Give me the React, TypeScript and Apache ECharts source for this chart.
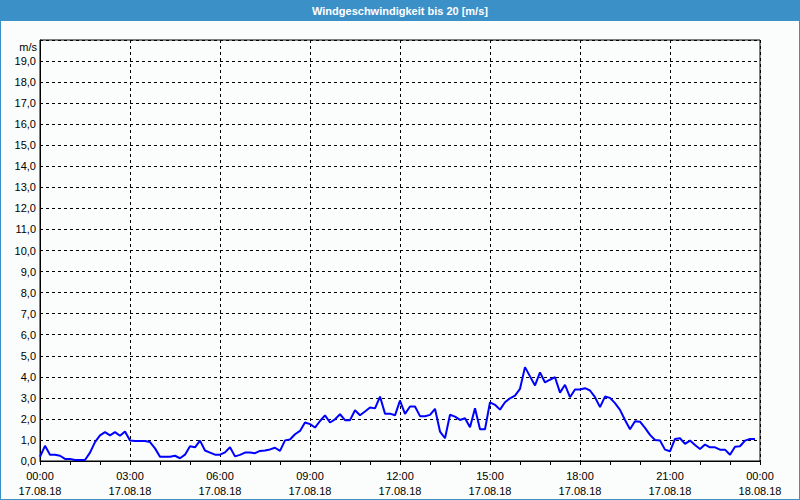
import React, { useEffect, useRef } from "react";
import * as echarts from "echarts";

const titleText = "Windgeschwindigkeit bis 20 [m/s]";
const unitText = "m/s";
const xTickTimes = ["00:00", "03:00", "06:00", "09:00", "12:00", "15:00", "18:00", "21:00", "00:00"];
const xTickDates = ["17.08.18", "17.08.18", "17.08.18", "17.08.18", "17.08.18", "17.08.18", "17.08.18", "17.08.18", "18.08.18"];
const stepMinutes = 10;
// wind speed in m/s, every 10 minutes from 00:00 to 23:50
const windSpeed = [
  0.2, 0.72, 0.3, 0.3, 0.25, 0.1, 0.1, 0.05, 0.05, 0.05,
  0.4, 0.9, 1.22, 1.37, 1.22, 1.37, 1.2, 1.4, 0.97, 0.95,
  0.95, 0.95, 0.9, 0.6, 0.2, 0.2, 0.2, 0.25, 0.13, 0.3,
  0.7, 0.65, 0.97, 0.5, 0.4, 0.3, 0.3, 0.41, 0.65, 0.22,
  0.29, 0.4, 0.4, 0.37, 0.48, 0.5, 0.55, 0.63, 0.48, 0.98,
  1.02, 1.27, 1.43, 1.83, 1.75, 1.59, 1.9, 2.17, 1.83, 1.98,
  2.22, 1.94, 1.94, 2.41, 2.17, 2.35, 2.54, 2.5, 3.06, 2.25,
  2.25, 2.17, 2.87, 2.24, 2.59, 2.59, 2.13, 2.13, 2.19, 2.48,
  1.4, 1.08, 2.2, 2.11, 1.95, 2.03, 1.6, 2.51, 1.51, 1.51,
  2.79, 2.67, 2.44, 2.79, 2.98, 3.11, 3.43, 4.46, 4.02, 3.59,
  4.21, 3.73, 3.86, 3.98, 3.25, 3.62, 3.03, 3.4, 3.4, 3.46,
  3.35, 3.03, 2.56, 3.06, 3.0, 2.75, 2.43, 1.95, 1.51, 1.89,
  1.87, 1.57, 1.24, 1.0, 0.97, 0.54, 0.46, 1.05, 1.08, 0.81,
  0.97, 0.76, 0.57, 0.78, 0.65, 0.65, 0.54, 0.54, 0.3, 0.68,
  0.7, 0.97, 1.05, 1.05,
];

const FONT = "'Liberation Sans', Arial, sans-serif";
const BLUE = "#3c90c8";

export default function App() {
  const ref = useRef<HTMLDivElement>(null);
  useEffect(() => {
    if (!ref.current) return;
    const chart = echarts.init(ref.current, null, { renderer: "svg" });
    const data = windSpeed.map((v, i) => [(i * stepMinutes) / 60, v]);
    chart.setOption({
      animation: false,
      backgroundColor: "#fafdfb",
      textStyle: { fontFamily: FONT },
      grid: { left: 40, right: 40, top: 40, bottom: 39, show: true, borderColor: "#000", borderWidth: 1, backgroundColor: "transparent" },
      xAxis: {
        type: "value",
        min: 0,
        max: 24,
        interval: 3,
        axisLine: { show: true, lineStyle: { color: "#000", width: 1 } },
        axisTick: { show: true, length: 4, lineStyle: { color: "#000" } },
        minorTick: { show: true, splitNumber: 3, length: 4, lineStyle: { color: "#000" } },
        splitLine: { show: true, lineStyle: { color: "#000", type: [3, 3], width: 1 } },
        axisLabel: {
          margin: 7,
          color: "#000",
          fontSize: 11,
          fontFamily: FONT,
          lineHeight: 15,
          showMinLabel: true,
          showMaxLabel: true,
          formatter: (v: number) => {
            const k = Math.round(v / 3);
            return xTickTimes[k] + "\n" + xTickDates[k];
          },
        },
      },
      yAxis: {
        type: "value",
        min: 0,
        max: 20,
        interval: 1,
        axisLine: { show: true, lineStyle: { color: "#000", width: 1 } },
        axisTick: { show: false },
        splitLine: { show: true, lineStyle: { color: "#000", type: [3, 3], width: 1 } },
        axisLabel: {
          margin: 4,
          color: "#000",
          fontSize: 11,
          fontFamily: FONT,
          formatter: (v: number) => (v >= 20 ? "" : v.toFixed(1).replace(".", ",")),
        },
      },
      graphic: [
        { type: "rect", left: 0, top: 0, shape: { x: 0, y: 0, width: 800, height: 21 }, style: { fill: BLUE }, z: 10 },
        {
          type: "text",
          x: 400,
          y: 11,
          style: { text: titleText, fill: "#fff", font: `bold 11px ${FONT}`, textAlign: "center", textVerticalAlign: "middle" },
          z: 11,
        },
        {
          type: "text",
          x: 37,
          y: 47,
          style: { text: unitText, fill: "#000", font: `11px ${FONT}`, textAlign: "right", textVerticalAlign: "middle" },
          z: 11,
        },
        { type: "rect", shape: { x: 0, y: 0, width: 800, height: 500 }, style: { fill: "none", stroke: BLUE, lineWidth: 2 }, z: 12, silent: true },
      ],
      series: [
        {
          type: "line",
          data,
          showSymbol: false,
          symbol: "none",
          lineStyle: { color: "#0000ff", width: 2 },
          z: 5,
        },
      ],
    });
    return () => chart.dispose();
  }, []);
  return <div ref={ref} style={{ position: "fixed", left: 0, top: 0, width: 800, height: 500 }} />;
}
